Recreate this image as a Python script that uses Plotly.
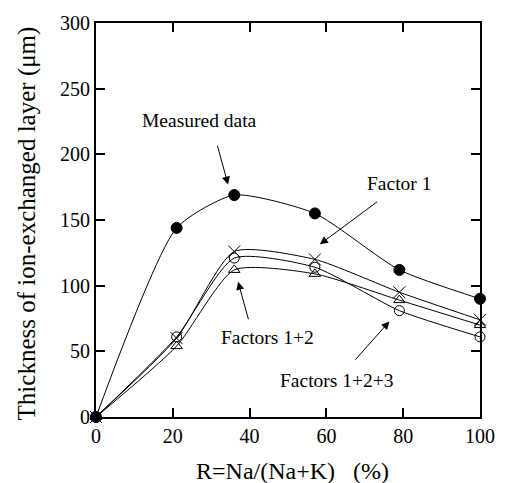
import plotly.graph_objects as go

R = [0, 21, 36, 57, 79, 100]
measured = [0, 144, 169, 155, 112, 90]
factor1 = [0, 60, 126, 120, 95, 74]
factors12 = [0, 54, 112, 109, 89, 70]
factors123 = [0, 61, 121, 114, 81, 61]

FONT = "Liberation Serif"

fig = go.Figure()

def add(y, symbol, size, fill):
    fig.add_trace(go.Scatter(
        x=R, y=y, mode="lines+markers",
        line=dict(color="black", width=1, shape="spline", smoothing=0.6),
        marker=dict(symbol=symbol, size=size, color=fill,
                    line=dict(color="black", width=1)),
        showlegend=False, cliponaxis=False))

add(factors12, "triangle-up", 10, "rgba(0,0,0,0)")
add(factors123, "circle", 10, "rgba(0,0,0,0)")
add(factor1, "x-thin", 12, "black")
add(measured, "circle", 11, "black")

labels = [
    ("Measured data", 26.9, 226),
    ("Factor 1", 79.0, 177.5),
    ("Factors 1+2", 44.7, 60.5),
    ("Factors 1+2+3", 62.7, 28),
]
for t, x, y in labels:
    fig.add_annotation(x=x, y=y, text=t, showarrow=False,
                       font=dict(family=FONT, size=19.5, color="black"))

arrows = [
    (31.5, 207.8, 34.4, 177),
    (73.6, 164.7, 58.3, 131.5),
    (39.8, 73.3, 37.0, 103),
    (67.2, 42.5, 76.4, 72.8),
]
for ax_, ay_, x, y in arrows:
    fig.add_annotation(x=x, y=y, ax=ax_, ay=ay_, axref="x", ayref="y",
                       xref="x", yref="y", text="", showarrow=True,
                       arrowhead=2, arrowsize=1.6, arrowwidth=1, arrowcolor="black",
                       standoff=0, startstandoff=0)

axis_common = dict(showline=True, linecolor="black", linewidth=2, mirror="ticks",
                   ticks="inside", ticklen=9, tickwidth=2, tickcolor="black",
                   showgrid=False, zeroline=False,
                   tickfont=dict(family=FONT, size=20, color="black"))

fig.update_xaxes(range=[0, 100], tickvals=[0, 20, 40, 60, 80, 100], **axis_common)
fig.update_yaxes(range=[0, 300], tickvals=[0, 50, 100, 150, 200, 250, 300], **axis_common)

fig.add_annotation(text="R=Na/(Na+K)\u00a0\u00a0\u00a0(%)", xref="paper", yref="paper",
                   x=0.511, y=-0.136, yanchor="middle", showarrow=False,
                   font=dict(family=FONT, size=24, color="black"))
fig.add_annotation(text="Thickness of ion-exchanged layer (\u03bcm)", xref="paper", yref="paper",
                   x=-0.180, y=0.491, xanchor="center", yanchor="middle", textangle=-90,
                   showarrow=False, font=dict(family=FONT, size=25, color="black"))

fig.update_layout(width=507, height=483, margin=dict(l=96, r=17, t=20, b=66),
                  plot_bgcolor="white", paper_bgcolor="white",
                  font=dict(family=FONT, color="black"))

fig.write_html("out.html")
